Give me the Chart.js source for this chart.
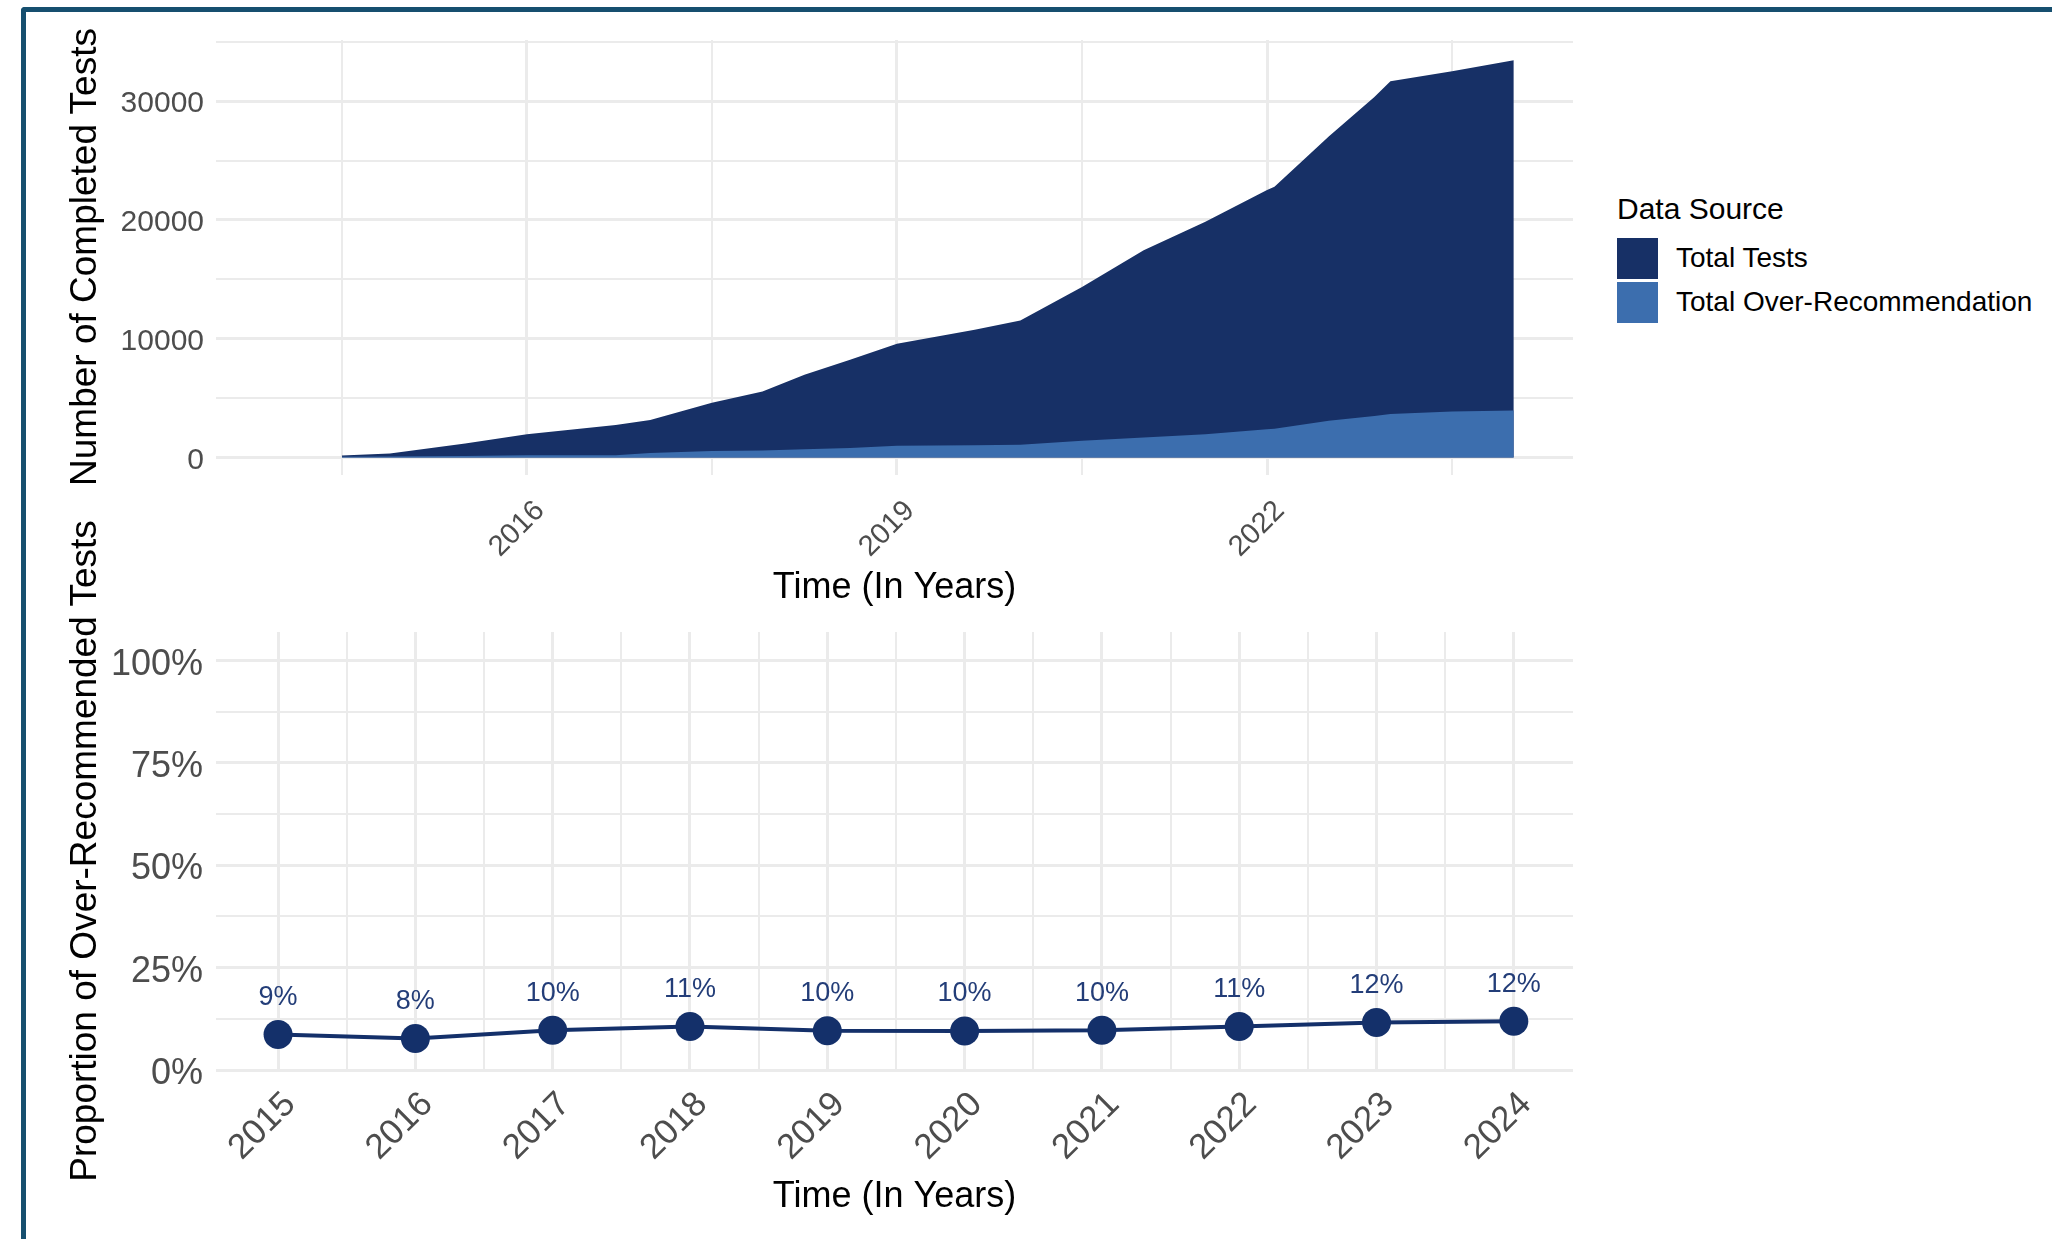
<!DOCTYPE html>
<html>
<head>
<meta charset="utf-8">
<script src="https://cdn.jsdelivr.net/npm/chart.js@4.4.1/dist/chart.umd.min.js"></script>
<style>
  body { margin: 0; background: #fff; width: 2052px; height: 1239px; overflow: hidden; position: relative;
         font-family: 'Liberation Sans', Arial, sans-serif; }
  #frame { position: absolute; left: 21px; top: 7px; width: 2100px; height: 1300px;
           border-top: 5px solid #164f6f; border-left: 5px solid #164f6f; border-top-left-radius: 4px;
           pointer-events: none; z-index: 5; }
  .box { position: absolute; left: 0; }
  .ytitle { position: absolute; font-size: 37px; color: #000; white-space: nowrap; line-height: 1;
            transform: translate(-50%, -50%) rotate(-90deg); }
  #legend { position: absolute; left: 1617px; top: 194px; }
  #legend .head { font-size: 30px; line-height: 1; color: #000; margin-bottom: 12px; }
  #legend .row { height: 44px; display: flex; align-items: center; }
  #legend .sw { width: 41px; height: 41px; margin-right: 18px; }
  #legend .lab { font-size: 28px; color: #000; }
</style>
</head>
<body>
<div id="frame"></div>
<div class="box" style="top:0; width:1600px; height:610px;"><canvas id="counts" width="1600" height="610"></canvas></div>
<div class="box" style="top:610px; width:1600px; height:629px;"><canvas id="share" width="1600" height="629"></canvas></div>
<div class="ytitle" style="left:83px; top:257px;">Number of Completed Tests</div>
<div class="ytitle" style="left:83px; top:851px;">Proportion of Over-Recommended Tests</div>
<div id="legend"></div>

<script>
// top panel: cumulative tests over time
var areaYears = [2014.5, 2014.89, 2015.5, 2016, 2016.72, 2017, 2017.5, 2017.91, 2018.25, 2018.62, 2019,
                 2019.63, 2020, 2020.5, 2021, 2021.5, 2022, 2022.06, 2022.5, 2022.87, 2023, 2023.5, 2024];
var totalTests = [170, 340, 1180, 1970, 2730, 3150, 4620, 5550, 6960, 8230, 9580,
                  10760, 11540, 14360, 17450, 19850, 22520, 22800, 27020, 30350, 31670, 32510, 33440];
var overRecommended = [60, 80, 120, 200, 200, 390, 540, 600, 700, 800, 1000,
                       1040, 1070, 1410, 1690, 1970, 2390, 2420, 3100, 3500, 3660, 3880, 3950];

var topXTicks = [2014.5, 2016, 2017.5, 2019, 2020.5, 2022, 2023.5];
var topXLabelled = [2016, 2019, 2022];
var topYTicks = [0, 5000, 10000, 15000, 20000, 25000, 30000, 35000];
var topYLabelled = [0, 10000, 20000, 30000];

// bottom panel: yearly proportion
var years = [2015, 2016, 2017, 2018, 2019, 2020, 2021, 2022, 2023, 2024];
var proportion = [0.087, 0.077, 0.097, 0.106, 0.096, 0.0955, 0.097, 0.106, 0.116, 0.119];

var bottomXTicks = [2015, 2015.5, 2016, 2016.5, 2017, 2017.5, 2018, 2018.5, 2019, 2019.5,
                    2020, 2020.5, 2021, 2021.5, 2022, 2022.5, 2023, 2023.5, 2024];
var bottomYTicks = [0, 0.125, 0.25, 0.375, 0.5, 0.625, 0.75, 0.875, 1];
var bottomYLabelled = [0, 0.25, 0.5, 0.75, 1];

var seriesNames = ['Total Tests', 'Total Over-Recommendation'];
var seriesColors = ['#173066', '#3c6eae'];

var FONT = "'Liberation Sans', Arial, sans-serif";
Chart.defaults.font.family = FONT;

function pairs(xs, ys) {
  return xs.map(function (x, i) { return {x: x, y: ys[i]}; });
}

// fixed axis sizes so both panels line up like the facet layout
function fixWidth(w) {
  return function (s) { s.width = w; s.paddingTop = 0; s.paddingBottom = 0; };
}
function fixHeight(h) {
  return function (s) { s.height = h; s.paddingLeft = 0; s.paddingRight = 0; };
}

var GRID = '#ebebeb';

new Chart(document.getElementById('counts'), {
  type: 'line',
  data: {
    datasets: [
      {
        label: seriesNames[1],
        data: pairs(areaYears, overRecommended),
        fill: 'origin',
        backgroundColor: seriesColors[1],
        borderColor: 'rgba(0,0,0,0)',
        borderWidth: 0,
        pointRadius: 0,
        tension: 0,
        order: 0
      },
      {
        label: seriesNames[0],
        data: pairs(areaYears, totalTests),
        fill: 'origin',
        backgroundColor: seriesColors[0],
        borderColor: 'rgba(0,0,0,0)',
        borderWidth: 0,
        pointRadius: 0,
        tension: 0,
        order: 1
      }
    ]
  },
  options: {
    responsive: false,
    animation: false,
    layout: { padding: { left: 0, top: 40, right: 27, bottom: 0 } },
    plugins: { legend: { display: false }, tooltip: { enabled: false } },
    scales: {
      x: {
        type: 'linear',
        min: 2013.48,
        max: 2024.48,
        afterBuildTicks: function (s) { s.ticks = topXTicks.map(function (v) { return {value: v}; }); },
        afterFit: fixHeight(135),
        grid: {
          color: GRID,
          drawTicks: false,
          lineWidth: function (c) { return topXLabelled.indexOf(c.tick.value) >= 0 ? 3 : 2; }
        },
        border: { display: false },
        ticks: {
          autoSkip: false,
          minRotation: 45,
          maxRotation: 45,
          padding: 19,
          labelOffset: 13,
          color: '#4d4d4d',
          font: { size: 29 },
          callback: function (v) { return topXLabelled.indexOf(v) >= 0 ? String(v) : ''; }
        },
        title: {
          display: true,
          text: 'Time (In Years)',
          color: '#000',
          font: { size: 36 },
          padding: { top: 0, bottom: 0 }
        }
      },
      y: {
        type: 'linear',
        min: -1470,
        max: 35150,
        afterBuildTicks: function (s) { s.ticks = topYTicks.map(function (v) { return {value: v}; }); },
        afterFit: fixWidth(216),
        grid: {
          color: GRID,
          drawTicks: false,
          lineWidth: function (c) { return topYLabelled.indexOf(c.tick.value) >= 0 ? 3 : 2; }
        },
        border: { display: false },
        ticks: {
          padding: 12,
          labelOffset: 3,
          color: '#4d4d4d',
          font: { size: 30 },
          callback: function (v) { return topYLabelled.indexOf(v) >= 0 ? String(v) : ''; }
        }
      }
    }
  }
});

var pointLabels = {
  id: 'pointLabels',
  afterDatasetsDraw: function (chart) {
    var ctx = chart.ctx;
    var meta = chart.getDatasetMeta(0);
    ctx.save();
    ctx.font = '27px ' + FONT;
    ctx.fillStyle = '#233d78';
    ctx.textAlign = 'center';
    ctx.textBaseline = 'middle';
    meta.data.forEach(function (pt, i) {
      ctx.fillText(Math.round(proportion[i] * 100) + '%', pt.x, pt.y - 37);
    });
    ctx.restore();
  }
};

new Chart(document.getElementById('share'), {
  type: 'line',
  data: {
    datasets: [{
      label: 'Proportion',
      data: pairs(years, proportion),
      fill: false,
      borderColor: '#14306a',
      borderWidth: 4,
      pointRadius: 14.5,
      pointBackgroundColor: '#14306a',
      pointBorderWidth: 0,
      tension: 0
    }]
  },
  plugins: [pointLabels],
  options: {
    responsive: false,
    animation: false,
    layout: { padding: { left: 0, top: 22, right: 27, bottom: 0 } },
    plugins: { legend: { display: false }, tooltip: { enabled: false } },
    scales: {
      x: {
        type: 'linear',
        min: 2014.548,
        max: 2024.431,
        afterBuildTicks: function (s) { s.ticks = bottomXTicks.map(function (v) { return {value: v}; }); },
        afterFit: fixHeight(169),
        grid: {
          color: GRID,
          drawTicks: false,
          lineWidth: function (c) { return years.indexOf(c.tick.value) >= 0 ? 3 : 2; }
        },
        border: { display: false },
        ticks: {
          autoSkip: false,
          minRotation: 45,
          maxRotation: 45,
          padding: 14,
          labelOffset: 12,
          color: '#4d4d4d',
          font: { size: 35 },
          callback: function (v) { return years.indexOf(v) >= 0 ? String(v) : ''; }
        },
        title: {
          display: true,
          text: 'Time (In Years)',
          color: '#000',
          font: { size: 36 },
          padding: { top: 0, bottom: 20 }
        }
      },
      y: {
        type: 'linear',
        min: 0,
        max: 1.07,
        afterBuildTicks: function (s) { s.ticks = bottomYTicks.map(function (v) { return {value: v}; }); },
        afterFit: fixWidth(216),
        grid: {
          color: GRID,
          drawTicks: false,
          lineWidth: function (c) { return bottomYLabelled.indexOf(c.tick.value) >= 0 ? 3 : 2; }
        },
        border: { display: false },
        ticks: {
          padding: 13,
          labelOffset: 4,
          color: '#4d4d4d',
          font: { size: 36 },
          callback: function (v) { return bottomYLabelled.indexOf(v) >= 0 ? Math.round(v * 100) + '%' : ''; }
        }
      }
    }
  }
});

// legend for the top panel
var legend = document.getElementById('legend');
var html = '<div class="head">Data Source</div>';
seriesNames.forEach(function (name, i) {
  html += '<div class="row"><div class="sw" style="background:' + seriesColors[i] + '"></div>' +
          '<div class="lab">' + name + '</div></div>';
});
legend.innerHTML = html;
</script>
</body>
</html>
